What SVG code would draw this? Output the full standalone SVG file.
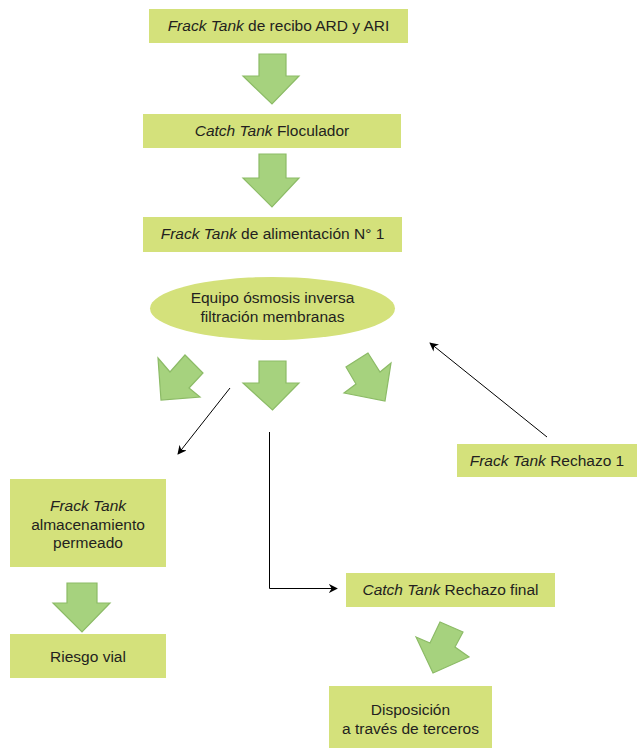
<svg xmlns="http://www.w3.org/2000/svg" width="641" height="748" viewBox="0 0 641 748">
<style>
.box{fill:#d4e17b;}
.arr{fill:#a6d27e;stroke:#8cbb66;stroke-width:1.2;stroke-linejoin:miter;}
text{font-family:"Liberation Sans",Arial,sans-serif;font-size:15.5px;fill:#231f20;text-anchor:middle;}
.i{font-style:italic;}
.ln{stroke:#000;stroke-width:1;fill:none;}
</style>
<defs>
<marker id="ah" viewBox="0 0 10 10" refX="9" refY="5" markerWidth="9" markerHeight="9" markerUnits="userSpaceOnUse" orient="auto">
<path d="M0,0 L10,5 L0,10 L3,5 Z" fill="#000"/>
</marker>
</defs>
<rect width="641" height="748" fill="#fff"/>

<g id="n1"><rect class="box" x="149" y="9" width="259" height="34"/><text x="278.5" y="31"><tspan class="i">Frack Tank</tspan> de recibo ARD y ARI</text></g>
<g id="n2"><rect class="box" x="143" y="114" width="258" height="34"/><text x="272" y="136"><tspan class="i">Catch Tank</tspan> Floculador</text></g>
<g id="n3"><rect class="box" x="143" y="217" width="259" height="35"/><text x="272.5" y="239"><tspan class="i">Frack Tank</tspan> de alimentación N° 1</text></g>
<g id="n4"><ellipse class="box" cx="272.5" cy="308.5" rx="122.5" ry="31.5"/><text x="272.5" y="303">Equipo ósmosis inversa</text><text x="272.5" y="322">filtración membranas</text></g>
<g id="n5"><rect class="box" x="457" y="444" width="180" height="33"/><text x="547" y="466"><tspan class="i">Frack Tank</tspan> Rechazo 1</text></g>
<g id="n6"><rect class="box" x="10" y="479" width="156" height="88"/><text x="88" y="511" class="i">Frack Tank</text><text x="88" y="530">almacenamiento</text><text x="88" y="548">permeado</text></g>
<g id="n7"><rect class="box" x="10" y="634" width="156" height="44"/><text x="88" y="662">Riesgo vial</text></g>
<g id="n8"><rect class="box" x="346" y="573" width="209" height="34"/><text x="450.5" y="595"><tspan class="i">Catch Tank</tspan> Rechazo final</text></g>
<g id="n9"><rect class="box" x="329" y="686" width="163" height="62"/><text x="410.5" y="715">Disposición</text><text x="410.5" y="734">a través de terceros</text></g>

<g id="connectors">
<polygon class="arr" points="259,54 286,54 286,76 299,76 272,104 243,76 259,76"/>
<polygon class="arr" points="259,154 286,154 286,178 299,178 272,207 243,178 259,178"/>
<polygon class="arr" points="259,361 286,361 286,383 299,383 272.5,410 243,383 259,383"/>
<polygon class="arr" points="158,358 170,372 185,355 203,373 189,388 200,397 161,400"/>
<polygon class="arr" points="368,353 346,367 356,384 344,393 385,401 391,363 380,372"/>
<polygon class="arr" points="67,583 97,583 97,603 110,603 82,632 53,603 67,603"/>
<polygon class="arr" points="416,637 430,643 440,622 463,632 455,647 469,657 433,673"/>
<line class="ln" x1="230" y1="388" x2="178" y2="454" marker-end="url(#ah)"/>
<polyline class="ln" points="269.5,432 269.5,588.5 337,588.5" marker-end="url(#ah)"/>
<line class="ln" x1="547" y1="437" x2="430" y2="343" marker-end="url(#ah)"/>
</g>
</svg>
